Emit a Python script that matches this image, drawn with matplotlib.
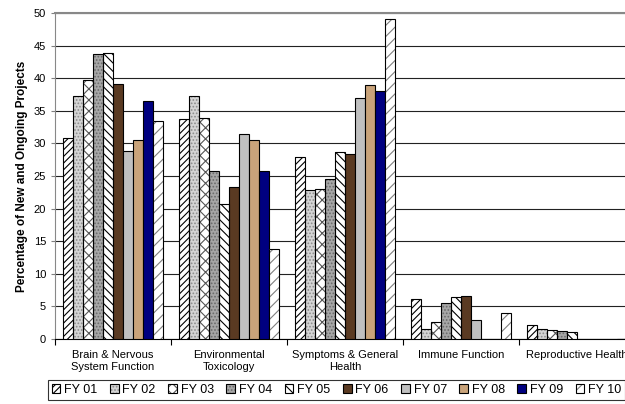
import numpy as np
import matplotlib
matplotlib.use('Agg')
import matplotlib.pyplot as plt

plt.rcParams['font.family'] = ['Liberation Sans', 'DejaVu Sans']
plt.rcParams['hatch.linewidth'] = 0.8

categories = ['Brain & Nervous\nSystem Function', 'Environmental\nToxicology',
              'Symptoms & General\nHealth', 'Immune Function', 'Reproductive Health']
years = ['FY 01', 'FY 02', 'FY 03', 'FY 04', 'FY 05', 'FY 06', 'FY 07', 'FY 08', 'FY 09', 'FY 10']

# 每个财年在五个类别中的百分比
fy01 = [30.9, 33.7, 27.9, 6.1, 2.1]
fy02 = [37.3, 37.3, 22.9, 1.5, 1.5]
fy03 = [39.8, 33.9, 23.0, 2.6, 1.4]
fy04 = [43.7, 25.7, 24.6, 5.5, 1.2]
fy05 = [43.8, 20.7, 28.7, 6.4, 1.0]
fy06 = [39.1, 23.3, 28.4, 6.6, 0]
fy07 = [28.8, 31.5, 37.0, 2.9, 0]
fy08 = [30.5, 30.5, 39.0, 0, 0]
fy09 = [36.5, 25.8, 38.0, 0, 0]
fy10 = [33.4, 13.8, 49.1, 4.0, 0]
series = [fy01, fy02, fy03, fy04, fy05, fy06, fy07, fy08, fy09, fy10]

# (填充色, 纹理, 纹理颜色)
styles = [
    ('white', '/////', 'black'),
    ('#d4d4d4', '.....', '#8c8c8c'),
    ('white', 'xxx', '#555555'),
    ('#a6a6a6', '.....', '#6a6a6a'),
    ('white', '\\\\\\\\', 'black'),
    ('#5a3a22', None, None),
    ('#c0c0c0', None, None),
    ('#c9a37a', None, None),
    ('#000080', None, None),
    ('white', '///', '#808080'),
]

fig = plt.figure(figsize=(6.25, 4.04), dpi=100)
ax = fig.add_axes([55 / 625, 1 - 339 / 404, 580 / 625, 326 / 404])

x = np.arange(len(categories))
w = 0.087
handles = []
for i, (vals, (fc, hatch, hc)) in enumerate(zip(series, styles)):
    pos = x + (i - 4.5) * w
    if hatch:
        layer = ax.bar(pos, vals, w, color=fc, hatch=hatch, edgecolor=hc, linewidth=0, zorder=3)
        edge = ax.bar(pos, vals, w, color='none', edgecolor='black', linewidth=0.8, zorder=4)
        handles.append((layer, edge))
    else:
        edge = ax.bar(pos, vals, w, color=fc, edgecolor='black', linewidth=0.8, zorder=3)
        handles.append(edge)

# 设置坐标轴范围
ax.set_xlim(-0.5, 4.5)
ax.set_ylim(0, 50)
ax.set_yticks(np.arange(0, 51, 5))
ax.tick_params(axis='y', labelsize=8, length=3, direction='out', color='#808080')
ax.set_xticks(np.arange(-0.5, 5, 1))
ax.set_xticklabels([])
ax.tick_params(axis='x', which='major', length=4, color='black')
ax.set_xticks(x, minor=True)
ax.set_xticklabels(categories, minor=True, fontsize=8)
ax.tick_params(axis='x', which='minor', length=0, pad=8)

ax.yaxis.grid(True, color='#222222', linewidth=0.8, zorder=0)
ax.set_axisbelow(True)
ax.spines['right'].set_visible(False)
ax.spines['top'].set_color('#888888')
ax.spines['top'].set_linewidth(1.5)
ax.spines['left'].set_color('#888888')
ax.spines['bottom'].set_color('black')

ax.set_ylabel('Percentage of New and Ongoing Projects', fontsize=8.5, fontweight='bold', labelpad=4)

leg = fig.legend(handles, years, loc='upper left', bbox_to_anchor=(48 / 625, 1 - 380 / 404),
                 ncol=10, fontsize=9, frameon=True, fancybox=False, edgecolor='black',
                 handlelength=0.7, handleheight=0.7, handletextpad=0.3, columnspacing=1.0,
                 borderpad=0.3, borderaxespad=0)
leg.get_frame().set_linewidth(0.8)

fig.savefig('out.png', dpi=100)
